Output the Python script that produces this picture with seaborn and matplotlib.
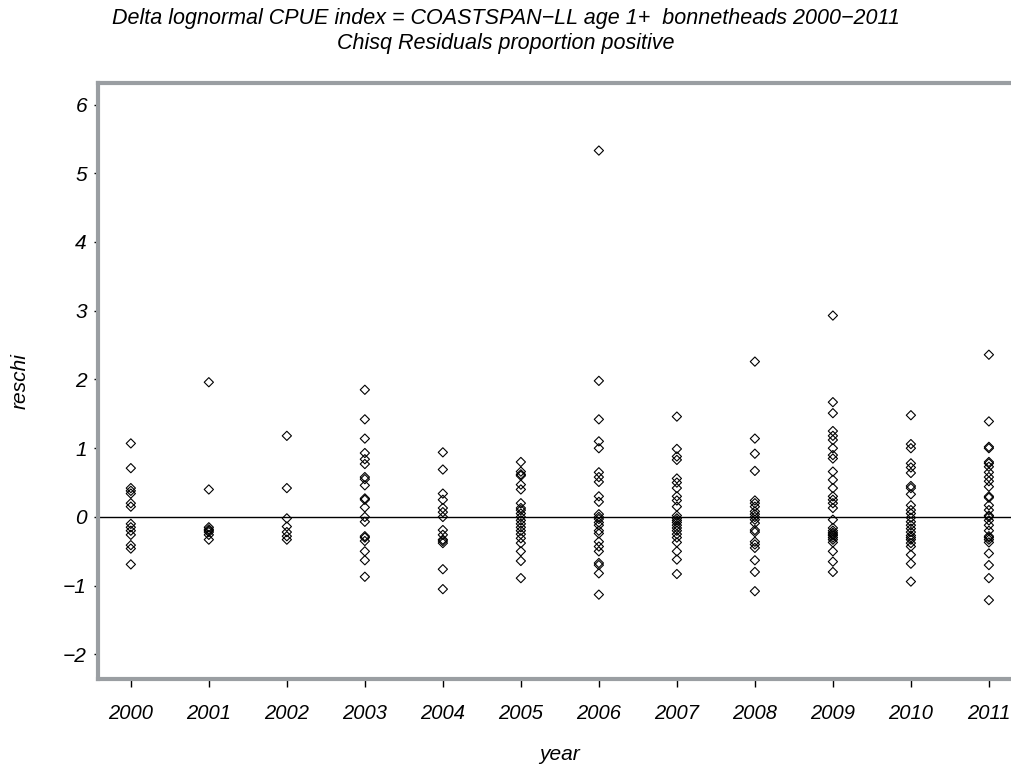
import numpy as np
import pandas as pd
import matplotlib
matplotlib.use("Agg")
import matplotlib.pyplot as plt
import seaborn as sns

# Chi-square residuals by year
years = [2000, 2001, 2002, 2003, 2004, 2005, 2006, 2007, 2008, 2009, 2010, 2011]
res_2000 = [1.07, 0.71, 0.42, 0.38, 0.34, 0.2, 0.15, -0.1, -0.15, -0.2, -0.26, -0.41, -0.46, -0.69]
res_2001 = [1.96, 0.4, -0.15, -0.18, -0.2, -0.22, -0.26, -0.33]
res_2002 = [1.18, 0.42, -0.02, -0.14, -0.22, -0.28, -0.33]
res_2003 = [1.85, 1.42, 1.14, 0.93, 0.84, 0.77, 0.58, 0.55, 0.46, 0.27, 0.25, 0.14, 0.0,
            -0.07, -0.28, -0.3, -0.35, -0.5, -0.63, -0.87]
res_2004 = [0.94, 0.69, 0.34, 0.25, 0.13, 0.07, 0.0, -0.19, -0.26, -0.33, -0.35, -0.38,
            -0.76, -1.05]
res_2005 = [0.8, 0.66, 0.62, 0.6, 0.47, 0.4, 0.2, 0.13, 0.1, 0.05, 0.0, -0.05, -0.1, -0.15,
            -0.2, -0.25, -0.31, -0.38, -0.5, -0.64, -0.89]
res_2006 = [5.33, 1.98, 1.42, 1.1, 1.0, 0.65, 0.58, 0.51, 0.3, 0.22, 0.04, 0.0, -0.03, -0.08,
            -0.12, -0.2, -0.24, -0.36, -0.43, -0.5, -0.67, -0.7, -0.82, -1.13]
res_2007 = [1.46, 0.99, 0.88, 0.83, 0.56, 0.5, 0.42, 0.3, 0.24, 0.15, 0.02, -0.02, -0.05,
            -0.08, -0.12, -0.16, -0.2, -0.25, -0.3, -0.37, -0.5, -0.62, -0.83]
res_2008 = [2.26, 1.14, 0.92, 0.67, 0.24, 0.2, 0.15, 0.08, 0.04, 0.0, -0.04, -0.09, -0.19,
            -0.22, -0.36, -0.4, -0.45, -0.63, -0.8, -1.08]
res_2009 = [2.93, 1.67, 1.51, 1.25, 1.18, 1.12, 1.0, 0.9, 0.85, 0.66, 0.54, 0.42, 0.3, 0.25,
            0.2, 0.13, -0.04, -0.16, -0.2, -0.23, -0.25, -0.27, -0.3, -0.33, -0.37, -0.5,
            -0.65, -0.8]
res_2010 = [1.48, 1.06, 1.0, 0.78, 0.72, 0.64, 0.45, 0.42, 0.33, 0.17, 0.1, 0.05, -0.01,
            -0.07, -0.12, -0.17, -0.22, -0.27, -0.3, -0.33, -0.38, -0.43, -0.55, -0.68, -0.94]
res_2011 = [2.36, 1.39, 1.02, 1.0, 0.8, 0.78, 0.73, 0.65, 0.58, 0.52, 0.44, 0.3, 0.28, 0.17,
            0.1, 0.02, 0.0, -0.05, -0.12, -0.2, -0.28, -0.3, -0.33, -0.37, -0.53, -0.7,
            -0.89, -1.21]

residuals = [res_2000, res_2001, res_2002, res_2003, res_2004, res_2005,
             res_2006, res_2007, res_2008, res_2009, res_2010, res_2011]
y_ticks = [-2, -1, 0, 1, 2, 3, 4, 5, 6]

df = pd.DataFrame({
    "year": np.concatenate([[yr] * len(r) for yr, r in zip(years, residuals)]),
    "reschi": np.concatenate(residuals),
})

sns.set_theme(style="white")
plt.rcParams["font.family"] = ["Liberation Sans", "DejaVu Sans"]
plt.rcParams["text.color"] = "black"
plt.rcParams["axes.labelcolor"] = "black"
plt.rcParams["xtick.color"] = "black"
plt.rcParams["ytick.color"] = "black"

fig = plt.figure(figsize=(10.11, 7.64), dpi=100)
# the frame runs a little past the right edge of the canvas
ax = fig.add_axes([0.097, 0.111, 0.912, 0.781])

ax.axhline(0, color="black", lw=1.0, zorder=1)
sns.scatterplot(data=df, x="year", y="reschi", marker="D", s=22,
                facecolor="none", edgecolor="black", linewidth=0.8, ax=ax, zorder=2)

ax.set_xlim(1999.58, 2011.4)
ax.set_ylim(-2.36, 6.32)
ax.set_xticks(years)
ax.set_xticklabels([str(y) for y in years], fontsize=14.5, style="italic")
ax.set_yticks(y_ticks)
ax.set_yticklabels([("\u2212" + str(-v)) if v < 0 else str(v) for v in y_ticks],
                   fontsize=15, style="italic")
ax.tick_params(axis="x", direction="out", length=6, width=1, pad=12)
ax.tick_params(axis="y", direction="out", length=3, width=1, pad=5)
ax.tick_params(bottom=True, left=True)

for side, sp in ax.spines.items():
    sp.set_color("#9a9ea2")
    sp.set_linewidth(3)
    sp.set_visible(True)

ax.set_xlabel("year", fontsize=15, style="italic", labelpad=16)
ax.set_ylabel("reschi", fontsize=15, style="italic", labelpad=24)

fig.text(0.5, 0.976, "Delta lognormal CPUE index = COASTSPAN\u2212LL age 1+  bonnetheads 2000\u22122011",
         ha="center", va="center", fontsize=15.5, style="italic")
fig.text(0.5, 0.943, "Chisq Residuals proportion positive",
         ha="center", va="center", fontsize=15.5, style="italic")

fig.savefig("out.png", dpi=100)
